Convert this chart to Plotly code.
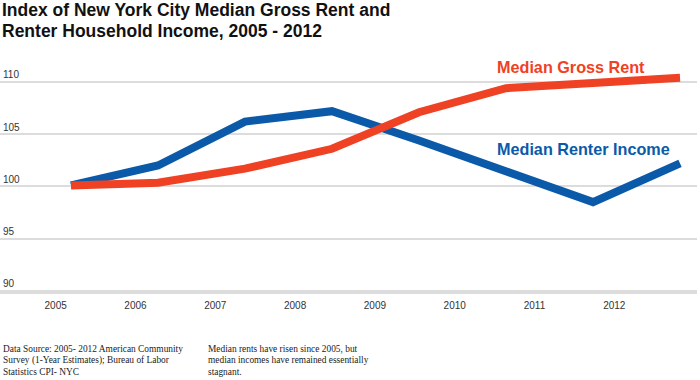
import plotly.graph_objects as go

years = [2005, 2006, 2007, 2008, 2009, 2010, 2011, 2012]
rent_index = [100.1, 100.35, 101.7, 103.6, 107.1, 109.4, 109.9, 110.4]
income_index = [100.1, 102.0, 106.2, 107.2, 104.4, 101.5, 98.5, 102.2]
tick_labels = ["2005", "2006", "2007", "2008", "2009", "2010", "2011", "2012"]
y_ticks = [90, 95, 100, 105, 110]

title_lines = ["Index of New York City Median Gross Rent and",
               "Renter Household Income, 2005 - 2012"]
source_lines = ["Data Source: 2005- 2012 American Community",
                "Survey (1-Year Estimates); Bureau of Labor",
                "Statistics CPI- NYC"]
note_lines = ["Median rents have risen since 2005, but",
              "median incomes have remained essentially",
              "stagnant."]

BLUE = "#0b5aa9"
RED = "#ef4124"
SANS = "Liberation Sans, Arial, Helvetica, sans-serif"
SERIF = "Liberation Serif, Times New Roman, serif"

PLOT_TOP, PLOT_BOTTOM, PLOT_W = 61, 292, 697
PLOT_H = PLOT_BOTTOM - PLOT_TOP


def py(pix):
    """pixel row -> paper y"""
    return (PLOT_BOTTOM - pix) / PLOT_H


x_left = 2004.184
label_pos = [2004.824 + 0.9172 * i for i in range(len(tick_labels))]

fig = go.Figure()
fig.add_trace(go.Scatter(x=years, y=income_index, mode="lines",
                         line=dict(color=BLUE, width=8), hoverinfo="skip",
                         showlegend=False))
fig.add_trace(go.Scatter(x=years, y=rent_index, mode="lines",
                         line=dict(color=RED, width=8), hoverinfo="skip",
                         showlegend=False))

fig.update_layout(
    width=700, height=380,
    margin=dict(l=0, r=700 - PLOT_W, t=PLOT_TOP, b=380 - PLOT_BOTTOM),
    paper_bgcolor="white", plot_bgcolor="white",
    xaxis=dict(range=[x_left, 2012.195], tickvals=label_pos, ticktext=tick_labels,
               showgrid=False, zeroline=False, showline=True,
               linecolor="#dcdcdc", linewidth=2, ticks="",
               ticklabelstandoff=3,
               tickfont=dict(family=SANS, size=10, color="#333")),
    yaxis=dict(range=[89.9, 112], tickvals=y_ticks, ticktext=[str(v) for v in y_ticks],
               showgrid=True, gridcolor="#dcdcdc", gridwidth=1.5,
               zeroline=False, showline=False, ticks="",
               ticklabelposition="inside top",
               tickfont=dict(family=SANS, size=10, color="#333")),
    showlegend=False,
)

annotations = []
title_y = [10.5, 31]
for i, t in enumerate(title_lines):
    annotations.append(dict(text="<b>" + t + "</b>", xref="paper", yref="paper",
                            x=0, y=py(title_y[i]), xanchor="left", yanchor="middle",
                            showarrow=False, font=dict(family=SANS, size=17.5, color="#111")))
annotations += [
    dict(text="<b>Median Gross Rent</b>", xref="x", yref="y",
         x=2009.874, y=111.43, xanchor="left", yanchor="middle", showarrow=False,
         font=dict(family=SANS, size=16.2, color=RED)),
    dict(text="<b>Median Renter Income</b>", xref="x", yref="y",
         x=2009.874, y=103.62, xanchor="left", yanchor="middle", showarrow=False,
         font=dict(family=SANS, size=16.2, color=BLUE)),
]
line_y = [348.5, 360, 371.5]
for i, t in enumerate(source_lines):
    annotations.append(dict(text=t, xref="paper", yref="paper", x=1 / PLOT_W,
                            y=py(line_y[i]), xanchor="left", yanchor="middle",
                            showarrow=False, font=dict(family=SERIF, size=9.4, color="#222")))
for i, t in enumerate(note_lines):
    annotations.append(dict(text=t, xref="paper", yref="paper", x=206 / PLOT_W,
                            y=py(line_y[i]), xanchor="left", yanchor="middle",
                            showarrow=False, font=dict(family=SERIF, size=9.4, color="#222")))
fig.update_layout(annotations=annotations)

fig.write_html("out.html", config=dict(displayModeBar=False),
               post_script="document.body.style.margin='0';document.body.style.overflow='hidden';")
